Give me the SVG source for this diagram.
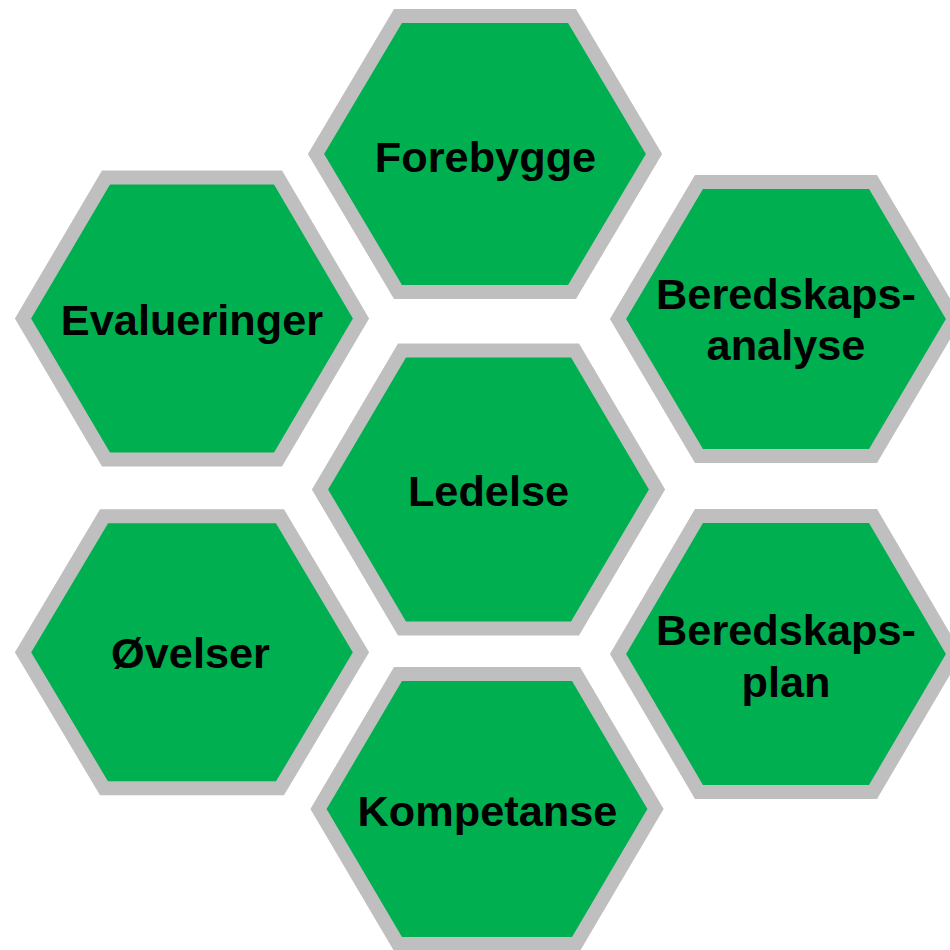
<svg xmlns="http://www.w3.org/2000/svg" width="950" height="950" viewBox="0 0 950 950">
<style>
.hex{fill:#00B050;stroke:#BFBFBF;stroke-width:14;stroke-linejoin:miter}
.lbl{font-family:"Liberation Sans",Arial,sans-serif;font-weight:bold;font-size:43.3px;fill:#000;text-anchor:middle}
</style>
<rect width="950" height="950" fill="#fff"/>
<g id="connectors"/>
<g id="forebygge">
<polygon class="hex" points="316,154 398,16 572,16 654,154 572,292 398,292"/>
<text class="lbl" x="485.5" y="171.5">Forebygge</text>
</g>
<g id="evalueringer">
<polygon class="hex" points="23,318.5 106,177.5 278,177.5 361,318.5 278,459.5 106,459.5"/>
<text class="lbl" x="192" y="335">Evalueringer</text>
</g>
<g id="beredskapsanalyse">
<polygon class="hex" points="618,319 699,182 873,182 954,319 873,456 699,456"/>
<text class="lbl" x="786" y="308.5">Beredskaps-</text>
<text class="lbl" x="786" y="359.5">analyse</text>
</g>
<g id="ledelse">
<polygon class="hex" points="320,489.5 402,350.5 575,350.5 657,489.5 575,628.5 402,628.5"/>
<text class="lbl" x="488.5" y="505.7">Ledelse</text>
</g>
<g id="ovelser">
<polygon class="hex" points="23,652.3 104,516.3 280,516.3 361,652.3 280,788.3 104,788.3"/>
<text class="lbl" x="190.5" y="668.3">Øvelser</text>
</g>
<g id="beredskapsplan">
<polygon class="hex" points="618,654 699,516 873,516 954,654 873,792 699,792"/>
<text class="lbl" x="786" y="645">Beredskaps-</text>
<text class="lbl" x="786" y="696.5">plan</text>
</g>
<g id="kompetanse">
<polygon class="hex" points="318.5,809 398,674 576,674 655.5,809 576,944 398,944"/>
<text class="lbl" x="487.5" y="825.7">Kompetanse</text>
</g>
</svg>
